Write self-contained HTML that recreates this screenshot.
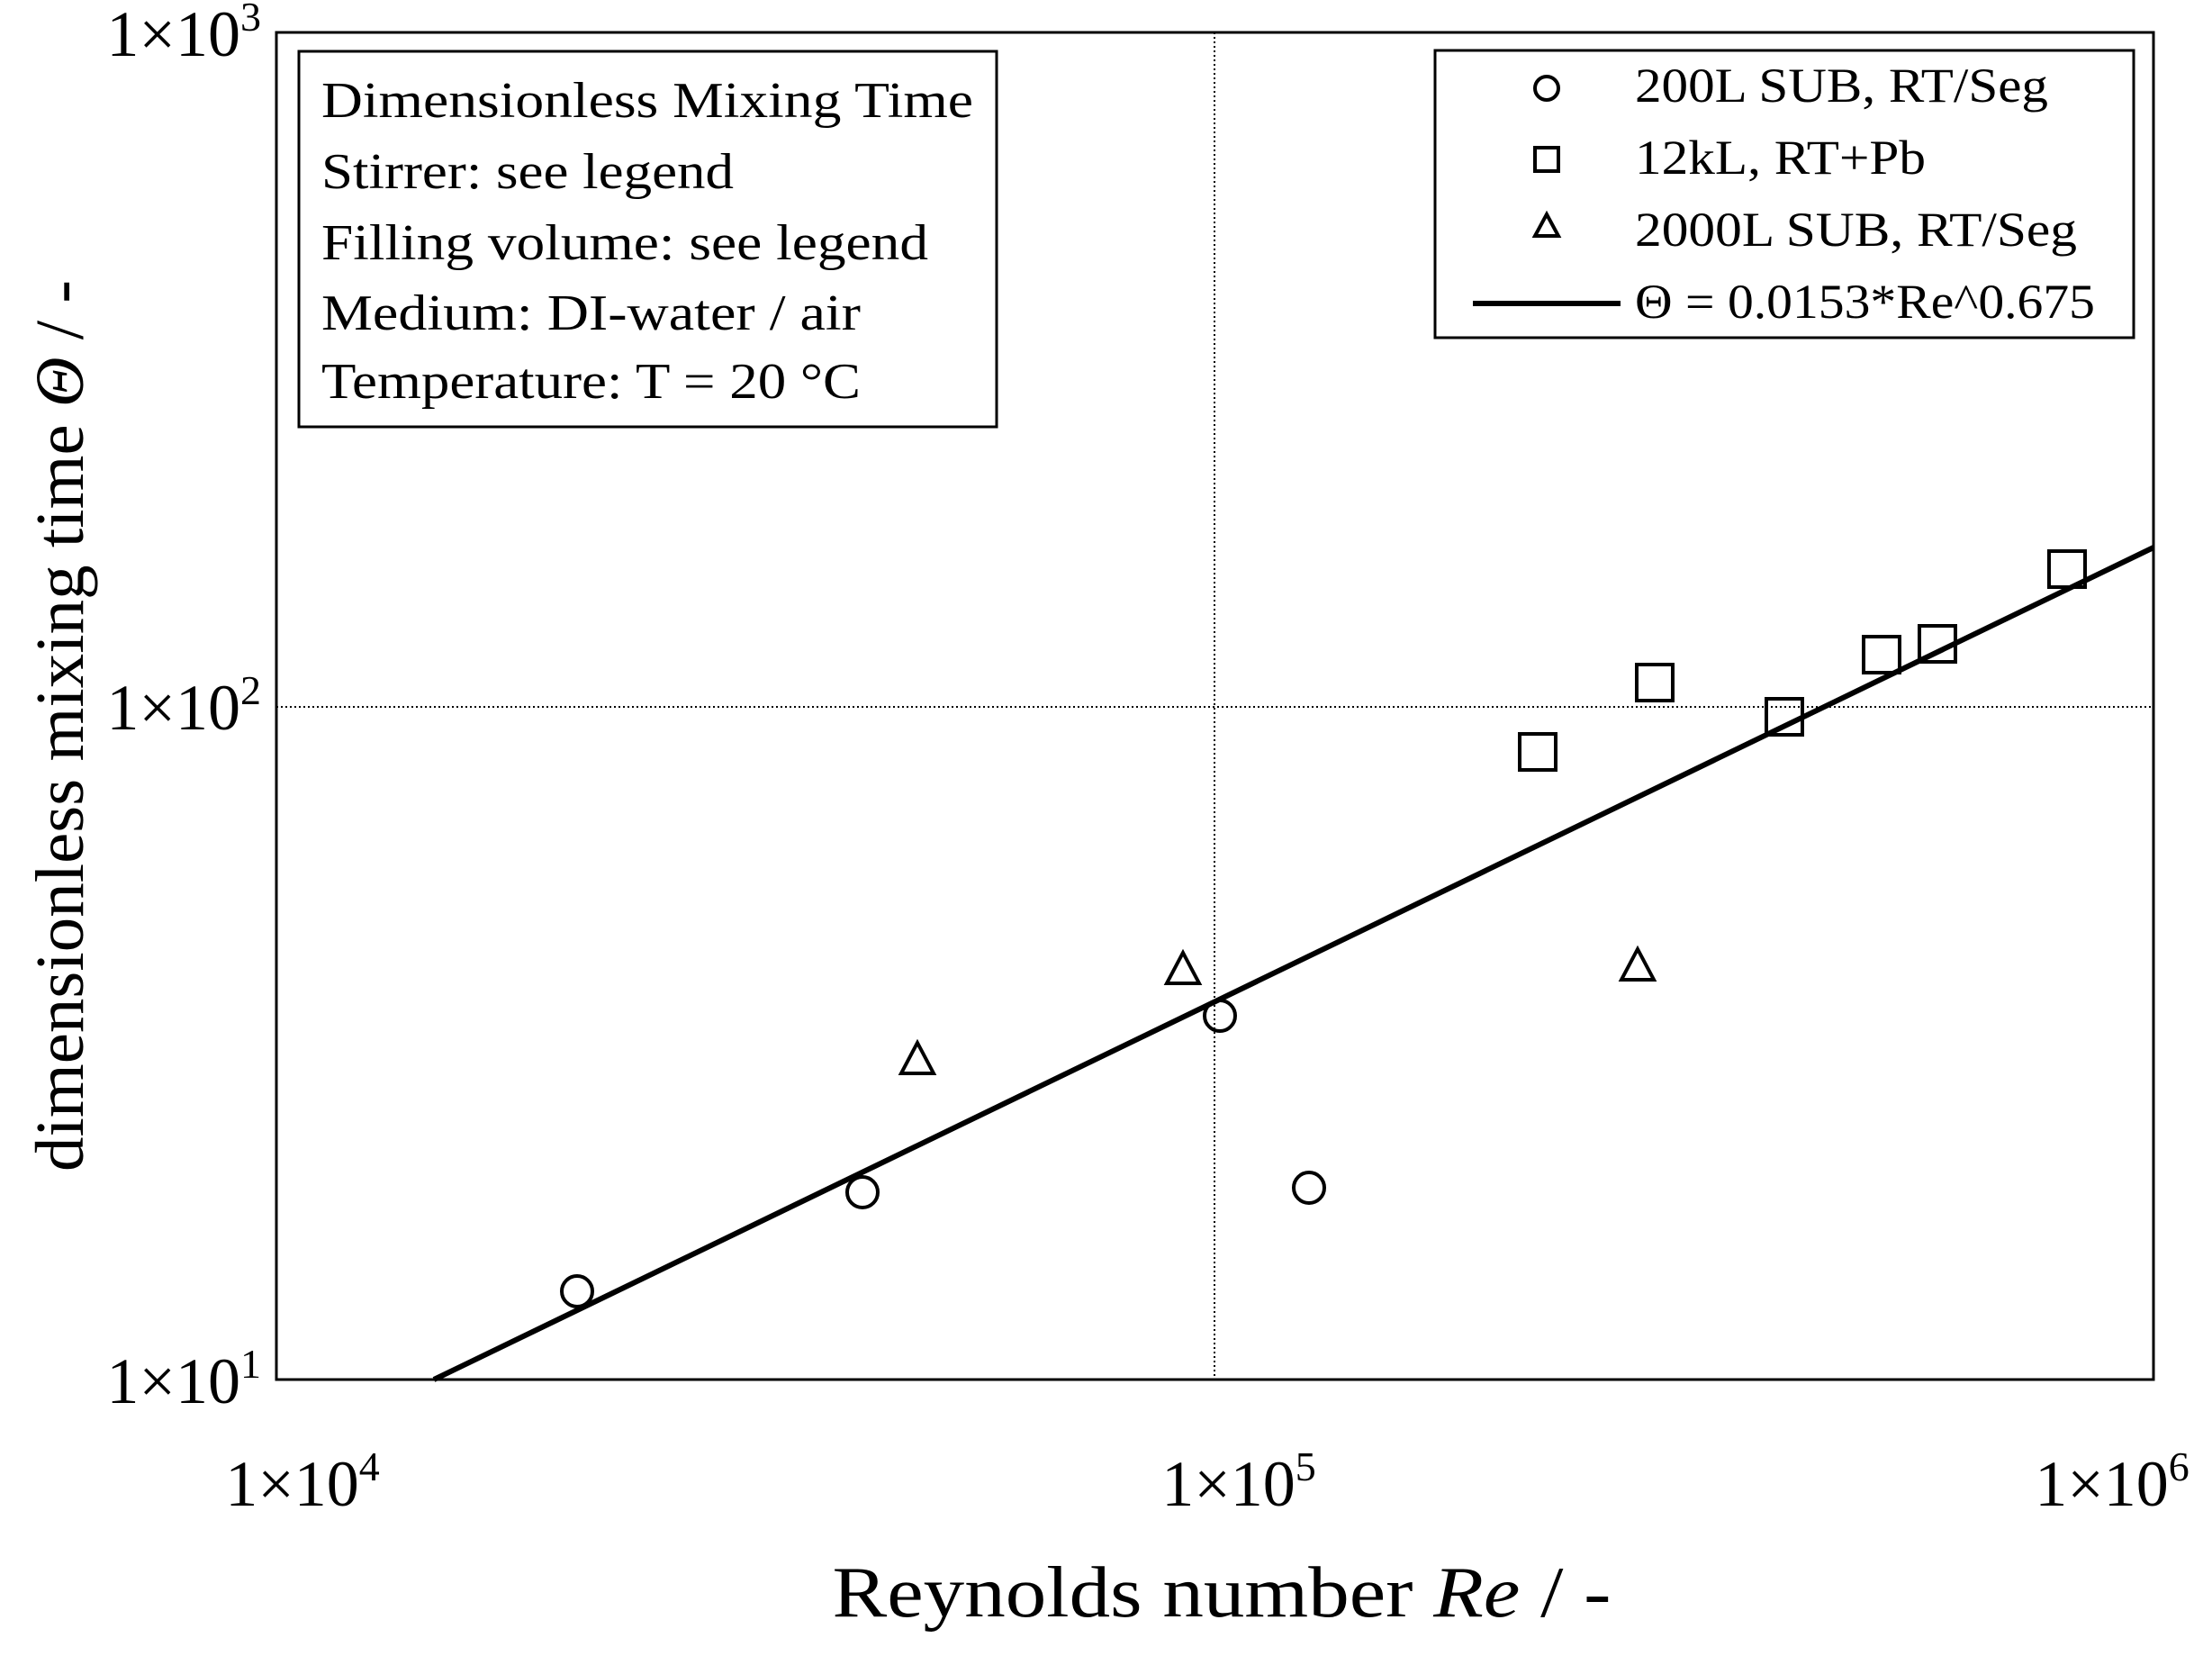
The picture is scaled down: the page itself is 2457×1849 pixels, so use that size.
<!DOCTYPE html>
<html><head><meta charset="utf-8"><style>html,body{margin:0;padding:0;background:#fff}svg{display:block}</style></head>
<body>
<svg width="2457" height="1849" viewBox="0 0 2457 1849" xmlns="http://www.w3.org/2000/svg" font-family="'Liberation Serif', serif" fill="#000">
<rect width="2457" height="1849" fill="#fff"/>
<line x1="307" y1="785" x2="2392" y2="785" stroke="#000" stroke-width="2" stroke-dasharray="2,3"/>
<line x1="1349" y1="36" x2="1349" y2="1532" stroke="#000" stroke-width="2" stroke-dasharray="2,3"/>
<rect x="307" y="36" width="2085" height="1496" fill="none" stroke="#000" stroke-width="3"/>
<line x1="482" y1="1532" x2="2392" y2="608" stroke="#000" stroke-width="6"/>
<g fill="none" stroke="#000" stroke-width="4">
<circle cx="641" cy="1434" r="17"/>
<circle cx="958" cy="1324" r="17"/>
<circle cx="1355" cy="1128" r="17"/>
<circle cx="1454" cy="1319" r="17"/>
<rect x="1688" y="815" width="40" height="40"/>
<rect x="1818" y="738" width="40" height="40"/>
<rect x="1962" y="776" width="40" height="40"/>
<rect x="2070" y="707" width="40" height="40"/>
<rect x="2132" y="695" width="40" height="40"/>
<rect x="2276" y="612" width="40" height="40"/>
<polygon points="1019,1158 1037,1192 1001,1192"/>
<polygon points="1314,1058 1332,1092 1296,1092"/>
<polygon points="1819,1054 1837,1088 1801,1088"/>
</g>
<rect x="332" y="57" width="775" height="417" fill="#fff" stroke="#000" stroke-width="3"/>
<g font-size="56">
<text x="357" y="130" textLength="724" lengthAdjust="spacingAndGlyphs">Dimensionless Mixing Time</text>
<text x="357" y="209" textLength="458" lengthAdjust="spacingAndGlyphs">Stirrer: see legend</text>
<text x="357" y="288" textLength="674" lengthAdjust="spacingAndGlyphs">Filling volume: see legend</text>
<text x="357" y="366" textLength="599" lengthAdjust="spacingAndGlyphs">Medium: DI-water / air</text>
<text x="357" y="442" textLength="599" lengthAdjust="spacingAndGlyphs">Temperature: T = 20 °C</text>
</g>
<rect x="1594" y="56" width="776" height="319" fill="#fff" stroke="#000" stroke-width="3"/>
<g fill="none" stroke="#000" stroke-width="4">
<circle cx="1718" cy="98" r="13"/>
<rect x="1705" y="164" width="26" height="26"/>
<polygon points="1718,238 1731,262 1705,262"/>
</g>
<line x1="1636" y1="337" x2="1800" y2="337" stroke="#000" stroke-width="6"/>
<g font-size="54">
<text x="1816" y="113" textLength="459" lengthAdjust="spacingAndGlyphs">200L SUB, RT/Seg</text>
<text x="1816" y="193" textLength="323" lengthAdjust="spacingAndGlyphs">12kL, RT+Pb</text>
<text x="1816" y="273" textLength="491" lengthAdjust="spacingAndGlyphs">2000L SUB, RT/Seg</text>
<text x="1816" y="353" textLength="511" lengthAdjust="spacingAndGlyphs">Θ = 0.0153*Re^0.675</text>
</g>
<g font-size="72" text-anchor="end">
<text x="290" y="62">1×10<tspan font-size="46" dy="-28">3</tspan></text>
<text x="290" y="810">1×10<tspan font-size="46" dy="-28">2</tspan></text>
<text x="290" y="1558">1×10<tspan font-size="46" dy="-28">1</tspan></text>
</g>
<g font-size="72" text-anchor="middle">
<text x="336" y="1672">1×10<tspan font-size="46" dy="-28">4</tspan></text>
<text x="1376" y="1672">1×10<tspan font-size="46" dy="-28">5</tspan></text>
<text x="2346" y="1672">1×10<tspan font-size="46" dy="-28">6</tspan></text>
</g>
<text x="1357" y="1795" font-size="80" text-anchor="middle" textLength="865" lengthAdjust="spacingAndGlyphs">Reynolds number <tspan font-style="italic">Re</tspan> / -</text>
<text transform="translate(92,806) rotate(-90)" font-size="76" text-anchor="middle" textLength="990" lengthAdjust="spacingAndGlyphs">dimensionless mixing time <tspan font-style="italic">Θ</tspan> / -</text>
</svg>
</body></html>
